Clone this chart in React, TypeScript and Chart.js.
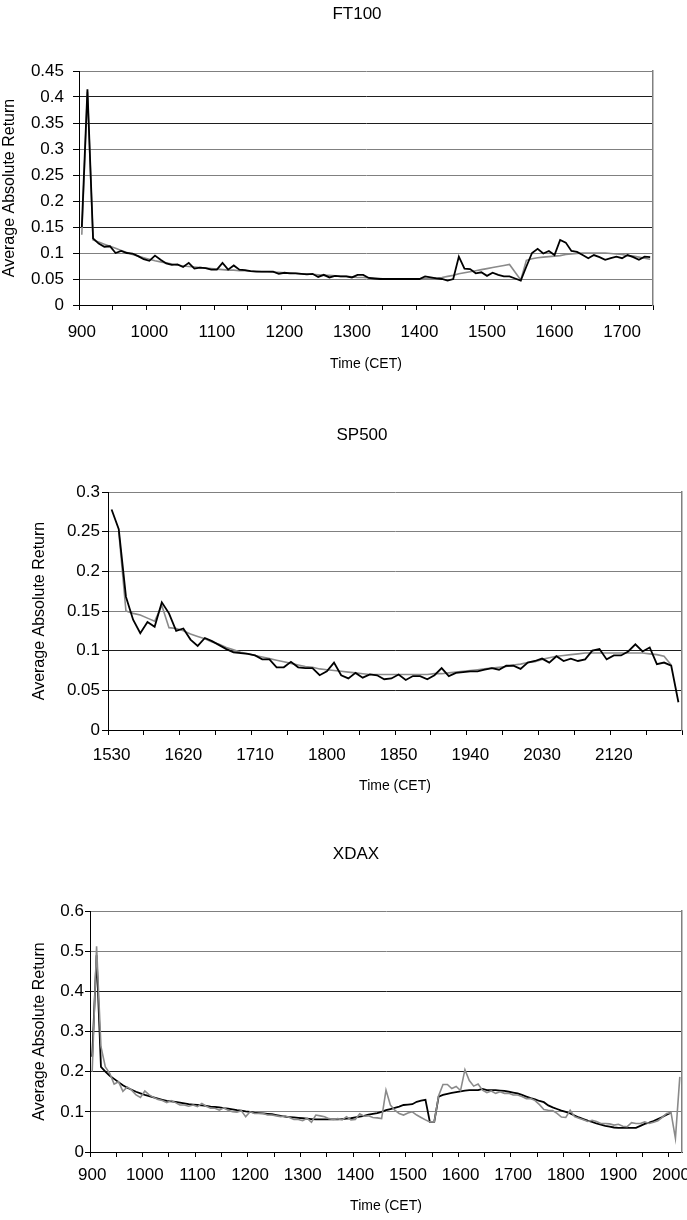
import React, { useEffect, useRef } from "react";
import { Chart, registerables } from "chart.js";

Chart.register(...registerables);

const FONT = "'Liberation Sans', Arial, Helvetica, sans-serif";

// ---------- categories (5-minute slots, labelled HHMM) ----------
function fiveMinuteSlots(startHour: number, startMinute: number, count: number): string[] {
  const out: string[] = [];
  for (let k = 0; k < count; k++) {
    const t = startHour * 60 + startMinute + 5 * k;
    out.push(String(Math.floor(t / 60) * 100 + (t % 60)));
  }
  return out;
}

const ft100Categories = fiveMinuteSlots(9, 0, 102);
const sp500Categories = fiveMinuteSlots(15, 30, 80);
const xdaxCategories = fiveMinuteSlots(9, 0, 135);

// ---------- series values ----------
const ft100Actual = [
  0.150, 0.415, 0.128, 0.118, 0.112, 0.113, 0.100, 0.104, 0.100, 0.099,
  0.094, 0.088, 0.085, 0.095, 0.087, 0.080, 0.077, 0.078, 0.073, 0.081,
  0.070, 0.072, 0.071, 0.068, 0.068, 0.081, 0.068, 0.076, 0.068, 0.067,
  0.065, 0.064, 0.064, 0.064, 0.064, 0.060, 0.062, 0.061, 0.061, 0.060,
  0.059, 0.060, 0.054, 0.058, 0.053, 0.056, 0.055, 0.055, 0.053, 0.058,
  0.058, 0.052, 0.051, 0.050, 0.050, 0.050, 0.050, 0.050, 0.050, 0.050,
  0.050, 0.055, 0.053, 0.051, 0.050, 0.047, 0.050, 0.093, 0.070, 0.069,
  0.061, 0.063, 0.056, 0.062, 0.058, 0.055, 0.055, 0.051, 0.047, 0.074,
  0.100, 0.108, 0.099, 0.104, 0.096, 0.125, 0.120, 0.104, 0.102, 0.096,
  0.090, 0.096, 0.092, 0.087, 0.090, 0.093, 0.090, 0.096, 0.092, 0.087,
  0.093, 0.092,
];
const ft100Model = [
  0.135, 0.410, 0.125, 0.121, 0.117, 0.113, 0.109, 0.105, 0.101, 0.097,
  0.094, 0.091, 0.088, 0.085, 0.083, 0.081, 0.079, 0.077, 0.075, 0.074,
  0.073, 0.072, 0.071, 0.070, 0.069, 0.068, 0.067, 0.067, 0.066, 0.066,
  0.065, 0.065, 0.064, 0.064, 0.063, 0.063, 0.062, 0.062, 0.061, 0.060,
  0.060, 0.059, 0.058, 0.057, 0.057, 0.056, 0.055, 0.055, 0.054, 0.053,
  0.053, 0.052, 0.051, 0.051, 0.050, 0.050, 0.050, 0.050, 0.050, 0.050,
  0.050, 0.051, 0.051, 0.052, 0.053, 0.055, 0.057, 0.060, 0.062, 0.064,
  0.066, 0.068, 0.070, 0.072, 0.074, 0.076, 0.078, 0.063, 0.048, 0.086,
  0.089, 0.091, 0.092, 0.093, 0.094, 0.095, 0.097, 0.098, 0.099, 0.100,
  0.100, 0.100, 0.100, 0.100, 0.099, 0.098, 0.097, 0.095, 0.094, 0.092,
  0.090, 0.088,
];

const sp500Actual = [
  0.278, 0.253, 0.168, 0.139, 0.122, 0.136, 0.130, 0.161, 0.147, 0.125,
  0.128, 0.114, 0.106, 0.116, 0.112, 0.107, 0.102, 0.098, 0.097, 0.096,
  0.094, 0.089, 0.089, 0.079, 0.079, 0.086, 0.079, 0.078, 0.078, 0.069,
  0.074, 0.085, 0.069, 0.065, 0.072, 0.066, 0.070, 0.069, 0.064, 0.065,
  0.070, 0.063, 0.068, 0.068, 0.064, 0.069, 0.078, 0.068, 0.072, 0.073,
  0.074, 0.074, 0.076, 0.078, 0.076, 0.081, 0.081, 0.077, 0.085, 0.087,
  0.090, 0.085, 0.093, 0.087, 0.090, 0.087, 0.089, 0.100, 0.102, 0.089,
  0.094, 0.094, 0.099, 0.108, 0.099, 0.104, 0.083, 0.085, 0.081, 0.035,
];
const sp500Model = [
  null, 0.250, 0.150, 0.147, 0.145, 0.141, 0.137, 0.157, 0.129, 0.128,
  0.125, 0.121, 0.118, 0.115, 0.111, 0.108, 0.104, 0.101, 0.098, 0.096,
  0.094, 0.092, 0.090, 0.088, 0.086, 0.084, 0.082, 0.080, 0.079, 0.077,
  0.076, 0.075, 0.074, 0.073, 0.072, 0.071, 0.070, 0.070, 0.070, 0.070,
  0.070, 0.070, 0.070, 0.070, 0.070, 0.071, 0.071, 0.072, 0.073, 0.074,
  0.075, 0.076, 0.077, 0.078, 0.079, 0.080, 0.082, 0.083, 0.085, 0.086,
  0.089, 0.091, 0.093, 0.094, 0.095, 0.096, 0.097, 0.097, 0.097, 0.097,
  0.097, 0.097, 0.097, 0.097, 0.097, 0.096, 0.095, 0.093, 0.082, null,
];

const xdaxActual = [
  0.200, 0.512, 0.262, 0.212, 0.196, 0.169, 0.175, 0.151, 0.162, 0.154,
  0.142, 0.136, 0.152, 0.142, 0.136, 0.131, 0.128, 0.123, 0.128, 0.123,
  0.117, 0.117, 0.114, 0.117, 0.113, 0.121, 0.114, 0.109, 0.109, 0.104,
  0.110, 0.104, 0.100, 0.099, 0.103, 0.088, 0.100, 0.096, 0.096, 0.096,
  0.092, 0.092, 0.090, 0.088, 0.090, 0.086, 0.081, 0.081, 0.078, 0.084,
  0.074, 0.092, 0.090, 0.088, 0.083, 0.081, 0.083, 0.080, 0.088, 0.080,
  0.081, 0.095, 0.089, 0.090, 0.086, 0.085, 0.083, 0.154, 0.117, 0.104,
  0.096, 0.092, 0.097, 0.100, 0.092, 0.086, 0.080, 0.075, 0.075, 0.140,
  0.168, 0.168, 0.158, 0.163, 0.153, 0.205, 0.178, 0.164, 0.169, 0.154,
  0.148, 0.152, 0.146, 0.150, 0.146, 0.146, 0.142, 0.142, 0.138, 0.133,
  0.133, 0.128, 0.118, 0.106, 0.104, 0.103, 0.096, 0.087, 0.086, 0.104,
  0.088, 0.084, 0.080, 0.076, 0.079, 0.076, 0.071, 0.071, 0.070, 0.067,
  0.069, 0.064, 0.063, 0.073, 0.071, 0.071, 0.075, 0.071, 0.074, 0.078,
  0.086, 0.096, 0.098, 0.034, 0.187,
];
const xdaxModel = [
  0.237, 0.490, 0.212, 0.200, 0.190, 0.182, 0.174, 0.166, 0.160, 0.155,
  0.150, 0.146, 0.142, 0.139, 0.136, 0.133, 0.130, 0.127, 0.126, 0.125,
  0.123, 0.121, 0.119, 0.118, 0.117, 0.116, 0.115, 0.113, 0.112, 0.111,
  0.109, 0.108, 0.106, 0.104, 0.103, 0.101, 0.100, 0.098, 0.097, 0.096,
  0.095, 0.094, 0.092, 0.090, 0.088, 0.087, 0.086, 0.085, 0.084, 0.083,
  0.082, 0.081, 0.081, 0.081, 0.081, 0.081, 0.081, 0.082, 0.083, 0.084,
  0.086, 0.088, 0.090, 0.093, 0.095, 0.097, 0.100, 0.104, 0.107, 0.110,
  0.113, 0.117, 0.118, 0.119, 0.125, 0.128, 0.130, 0.075, 0.075, 0.138,
  0.142, 0.145, 0.147, 0.149, 0.151, 0.153, 0.154, 0.154, 0.154, 0.157,
  0.154, 0.154, 0.154, 0.153, 0.152, 0.150, 0.148, 0.146, 0.142, 0.138,
  0.134, 0.131, 0.127, 0.124, 0.116, 0.111, 0.107, 0.103, 0.100, 0.096,
  0.091, 0.086, 0.082, 0.078, 0.075, 0.071, 0.068, 0.065, 0.063, 0.061,
  0.060, 0.060, 0.060, 0.060, 0.060, 0.065, 0.070, 0.073, 0.077, 0.082,
  0.087, 0.093, 0.098, null, null,
];

// ---------- axis ranges / tick labelling ----------
const ft100YTicks = { max: 0.45, step: 0.05 };
const sp500YTicks = { max: 0.3, step: 0.05 };
const xdaxYTicks = { max: 0.6, step: 0.1 };
const ft100LabelEvery = 12;
const sp500LabelEvery = 10;
const xdaxLabelEvery = 12;
const ft100TickEvery = 6;
const sp500TickEvery = 5;
const xdaxTickEvery = 6;

const X_TITLE = "Time (CET)";
const Y_TITLE = "Average Absolute Return";

const BLACK = "#000000";
const GRAY = "#8a8a8a";
const GRID_DARK = "#1e1e1e";
const GRID_LIGHT = "#808080";

type Series = { values: (number | null)[]; color: string };

type PanelSpec = {
  title: string;
  categories: string[];
  series: Series[]; // first entry is drawn on top
  yMax: number;
  yStep: number;
  labelEvery: number;
  tickEvery: number;
  lightGrid: number[];
  // layout
  top: number;
  canvasWidth: number;
  canvasHeight: number;
  padLeft: number;
  yAxisWidth: number;
  yTitlePad: number;
  rightWidth: number;
  xAxisHeight: number;
  yTickLength: number;
  yTickPadding: number;
  xTickPadding: number;
};

const panels: PanelSpec[] = [
  {
    title: "FT100",
    categories: ft100Categories,
    series: [
      { values: ft100Actual, color: BLACK },
      { values: ft100Model, color: GRAY },
    ],
    yMax: ft100YTicks.max,
    yStep: ft100YTicks.step,
    labelEvery: ft100LabelEvery,
    tickEvery: ft100TickEvery,
    lightGrid: [0.45, 0.3, 0.25, 0.2, 0.1, 0.05],
    top: 0,
    canvasWidth: 714,
    canvasHeight: 373,
    padLeft: 0,
    yAxisWidth: 79,
    yTitlePad: 0,
    rightWidth: 61,
    xAxisHeight: 68,
    yTickLength: 6,
    yTickPadding: 9,
    xTickPadding: 12,
  },
  {
    title: "SP500",
    categories: sp500Categories,
    series: [
      { values: sp500Actual, color: BLACK },
      { values: sp500Model, color: GRAY },
    ],
    yMax: sp500YTicks.max,
    yStep: sp500YTicks.step,
    labelEvery: sp500LabelEvery,
    tickEvery: sp500TickEvery,
    lightGrid: [0.3, 0.25, 0.2, 0.15],
    top: 421,
    canvasWidth: 724,
    canvasHeight: 374,
    padLeft: 0,
    yAxisWidth: 108,
    yTitlePad: 30.4,
    rightWidth: 42,
    xAxisHeight: 65,
    yTickLength: 6,
    yTickPadding: 2,
    xTickPadding: 10,
  },
  {
    title: "XDAX",
    categories: xdaxCategories,
    series: [
      { values: xdaxActual, color: GRAY },
      { values: xdaxModel, color: BLACK },
    ],
    yMax: xdaxYTicks.max,
    yStep: xdaxYTicks.step,
    labelEvery: xdaxLabelEvery,
    tickEvery: xdaxTickEvery,
    lightGrid: [0.6, 0.5, 0.1],
    top: 840,
    canvasWidth: 712,
    canvasHeight: 375,
    padLeft: 0,
    yAxisWidth: 90,
    yTitlePad: 30.4,
    rightWidth: 30,
    xAxisHeight: 63,
    yTickLength: 5,
    yTickPadding: 1,
    xTickPadding: 8,
  },
];

function buildConfig(p: PanelSpec): any {
  const n = p.categories.length;
  const light = p.lightGrid.map((v) => Math.round(v * 100));
  return {
    type: "line",
    data: {
      labels: p.categories,
      datasets: p.series.map((s) => ({
        data: s.values,
        borderColor: s.color,
        backgroundColor: s.color,
        borderWidth: s.color === BLACK ? 1.8 : 1.6,
        pointRadius: 0,
        tension: 0,
        fill: false,
        spanGaps: false,
      })),
    },
    options: {
      responsive: false,
      animation: false,
      devicePixelRatio: 1,
      events: [],
      layout: { padding: { left: p.padLeft, right: 0, top: 0, bottom: 0 } },
      plugins: {
        legend: { display: false },
        tooltip: { enabled: false },
        title: {
          display: true,
          text: p.title,
          color: "#000",
          font: { family: FONT, size: 17, weight: "normal" },
          padding: { top: 4, bottom: 46.6 },
        },
      },
      scales: {
        x: {
          type: "category",
          offset: true,
          afterFit: (s: any) => {
            s.height = p.xAxisHeight;
          },
          grid: {
            display: true,
            offset: true,
            drawOnChartArea: false,
            drawTicks: true,
            tickLength: 5,
            lineWidth: 1,
            color: (ctx: any) => {
              const i = ctx.type === "tick" ? ctx.index : n;
              return i % p.tickEvery === 0 ? "#000" : "rgba(0,0,0,0)";
            },
          },
          border: { display: true, color: "#000", width: 1 },
          ticks: {
            autoSkip: false,
            maxRotation: 0,
            minRotation: 0,
            padding: p.xTickPadding,
            color: "#000",
            font: { family: FONT, size: 17 },
            callback: (_v: any, i: number) => (i % p.labelEvery === 0 ? p.categories[i] : ""),
          },
          title: {
            display: true,
            text: X_TITLE,
            color: "#000",
            font: { family: FONT, size: 14 },
            padding: { top: 0, bottom: 0 },
          },
        },
        y: {
          type: "linear",
          min: 0,
          max: p.yMax,
          afterFit: (s: any) => {
            s.width = p.yAxisWidth;
          },
          ticks: {
            stepSize: p.yStep,
            padding: p.yTickPadding,
            color: "#000",
            font: { family: FONT, size: 17 },
            callback: (v: any) => String(Number(Number(v).toFixed(2))),
          },
          grid: {
            display: true,
            drawTicks: true,
            tickLength: p.yTickLength,
            tickColor: "#000",
            lineWidth: 1,
            color: (ctx: any) => {
              if (!ctx.tick) return GRID_DARK;
              const v = Math.round(ctx.tick.value * 100);
              return light.includes(v) ? GRID_LIGHT : GRID_DARK;
            },
          },
          border: { display: true, color: "#000", width: 1 },
          title: {
            display: true,
            text: Y_TITLE,
            color: "#000",
            font: { family: FONT, size: 16 },
            padding: { top: p.yTitlePad, bottom: 0 },
          },
        },
        frame: {
          type: "linear",
          position: "right",
          display: true,
          afterFit: (s: any) => {
            s.width = p.rightWidth;
          },
          ticks: { display: false },
          grid: { display: false, drawTicks: false },
          border: { display: true, color: GRID_LIGHT, width: 1.5 },
        },
      },
    },
  };
}

function Panel({ spec }: { spec: PanelSpec }) {
  const ref = useRef<HTMLCanvasElement | null>(null);
  useEffect(() => {
    if (!ref.current) return;
    const chart = new Chart(ref.current, buildConfig(spec));
    return () => chart.destroy();
  }, [spec]);
  return (
    <canvas
      ref={ref}
      width={spec.canvasWidth}
      height={spec.canvasHeight}
      style={{
        position: "absolute",
        left: 0,
        top: spec.top,
        width: spec.canvasWidth,
        height: spec.canvasHeight,
        display: "block",
      }}
    />
  );
}

export default function App() {
  return (
    <div
      style={{
        position: "absolute",
        left: 0,
        top: 0,
        width: 687,
        height: 1220,
        overflow: "hidden",
        background: "#ffffff",
      }}
    >
      {panels.map((p) => (
        <Panel key={p.title} spec={p} />
      ))}
    </div>
  );
}
